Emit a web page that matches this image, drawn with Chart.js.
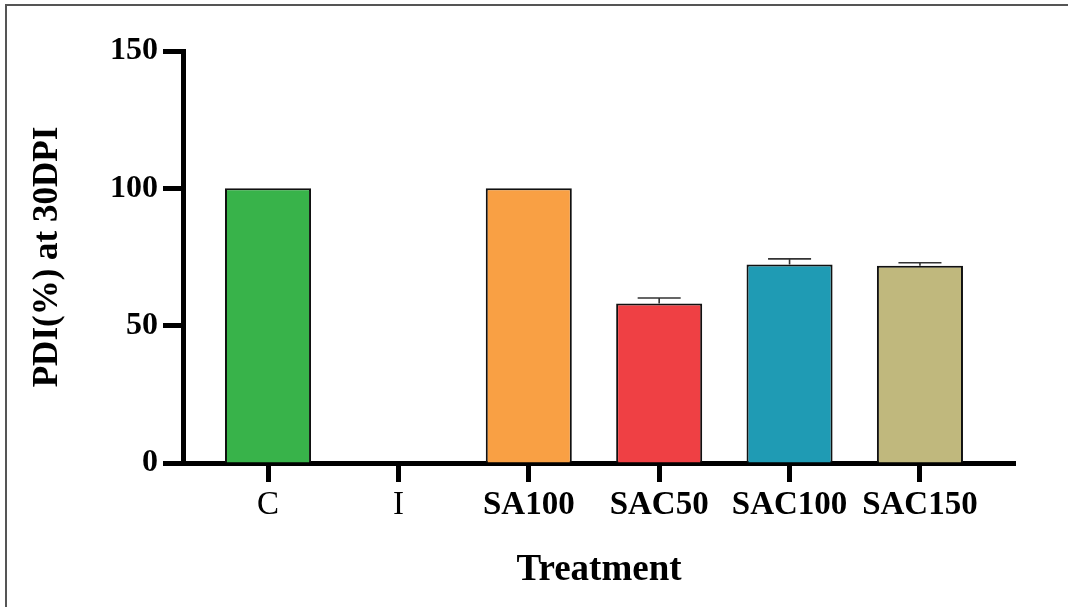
<!DOCTYPE html>
<html>
<head>
<meta charset="utf-8">
<script src="https://cdn.jsdelivr.net/npm/chart.js@4.4.1/dist/chart.umd.min.js"></script>
<style>
  html, body { margin: 0; padding: 0; background: #fff; }
  #wrap { position: relative; width: 1068px; height: 607px; overflow: hidden; }
  #frame { position: absolute; left: 5px; top: 4px; right: -10px; bottom: -10px;
           border-left: 2px solid #555; border-top: 2px solid #555; }
  canvas { position: absolute; left: 0; top: 0; }
</style>
</head>
<body>
<div id="wrap">
  <div id="frame"></div>
  <canvas id="c" width="1068" height="607"></canvas>
</div>
<script>
const categories = ['C', 'I', 'SA100', 'SAC50', 'SAC100', 'SAC150'];
const values = [100, 0, 100, 58.1, 72.3, 71.8];
const errors = [0, 0, 0, 2.0, 2.0, 1.1];
const barColors = ['#38b34a', '#ffffff', '#f9a044', '#ef4044', '#1f9bb4', '#c0b87d'];
const yTicks = [0, 50, 100, 150];
const yTitle = 'PDI(%) at 30DPI';
const xTitle = 'Treatment';

const FAMILY = '"Liberation Serif", "Times New Roman", serif';

const errorBarPlugin = {
  id: 'errorBars',
  afterDatasetsDraw(chart) {
    const ctx = chart.ctx;
    const meta = chart.getDatasetMeta(0);
    const yScale = chart.scales.y;
    ctx.save();
    ctx.strokeStyle = '#333';
    ctx.lineWidth = 1.6;
    meta.data.forEach((bar, i) => {
      const e = errors[i];
      if (!e) return;
      const top = yScale.getPixelForValue(values[i] + e);
      const x = bar.x;
      const capHalf = bar.width * 0.25;
      ctx.beginPath();
      ctx.moveTo(x, bar.y);
      ctx.lineTo(x, top);
      ctx.moveTo(x - capHalf, top);
      ctx.lineTo(x + capHalf, top);
      ctx.stroke();
    });
    ctx.restore();
  }
};

new Chart(document.getElementById('c'), {
  type: 'bar',
  data: {
    datasets: [{
      data: categories.map((c, i) => ({ x: i, y: values[i] })),
      backgroundColor: barColors,
      borderColor: '#111',
      borderWidth: 2,
      borderSkipped: 'start',
      categoryPercentage: 1,
      barPercentage: 0.66
    }]
  },
  options: {
    responsive: false,
    animation: false,
    devicePixelRatio: 1,
    layout: { padding: { left: 0, right: 53, top: 51, bottom: 0 } },
    plugins: { legend: { display: false }, tooltip: { enabled: false } },
    scales: {
      x: {
        type: 'linear',
        min: -0.652,
        max: 5.729,
        offset: false,
        z: 1,
        afterBuildTicks: (scale) => { scale.ticks = categories.map((c, i) => ({ value: i })); },
        afterFit: (scale) => { scale.height = 144; },
        border: { display: true, color: '#000', width: 5 },
        grid: { display: true, offset: false, drawOnChartArea: false, drawTicks: true, tickLength: 19, tickWidth: 5, tickColor: '#000' },
        ticks: {
          color: '#000',
          padding: 4,
          maxRotation: 0,
          autoSkip: false,
          font: (ctx) => ({ family: FAMILY, size: 33, weight: (ctx.index <= 1) ? 'normal' : 'bold' }),
          callback: (v) => categories[v]
        },
        title: {
          display: true,
          text: xTitle,
          color: '#000',
          font: { family: FAMILY, size: 37, weight: 'bold' },
          padding: { top: 0, bottom: 14 }
        }
      },
      y: {
        min: 0,
        max: 150,
        z: 1,
        afterBuildTicks: (scale) => { scale.ticks = yTicks.map(v => ({ value: v })); },
        afterFit: (scale) => { scale.width = 183; },
        border: { display: true, color: '#000', width: 5 },
        grid: { display: true, drawOnChartArea: false, drawTicks: true, tickLength: 20, tickWidth: 5, tickColor: '#000' },
        ticks: {
          color: '#000',
          padding: 5,
          font: { family: FAMILY, size: 32, weight: 'bold' }
        },
        title: {
          display: true,
          text: yTitle,
          color: '#000',
          font: { family: FAMILY, size: 35, weight: 'bold' },
          padding: { top: 27, bottom: 0 }
        }
      }
    }
  },
  plugins: [errorBarPlugin]
});
</script>
</body>
</html>
